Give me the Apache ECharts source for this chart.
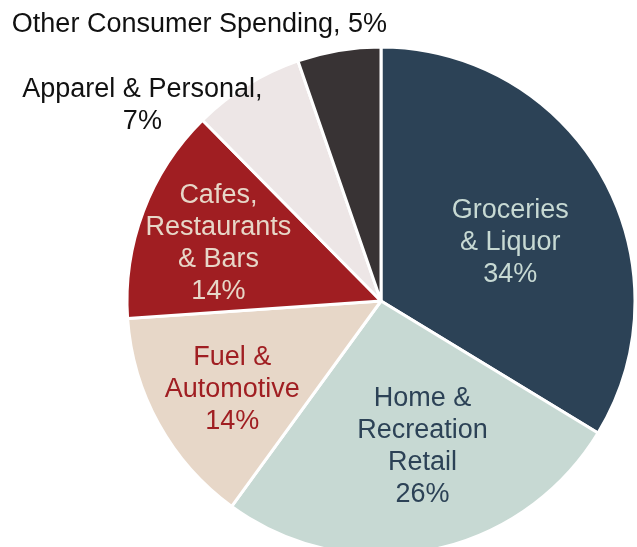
<!DOCTYPE html>
<html>
<head>
<meta charset="utf-8">
<script src="https://cdn.jsdelivr.net/npm/echarts@6/dist/echarts.min.js"></script>
<style>
  html, body { margin: 0; padding: 0; background: #FFFFFF; }
  #chart { width: 637px; height: 547px; }
</style>
</head>
<body>
<div id="chart"></div>
<script>
// slice data, clockwise from 12 o'clock
var categories = ['Groceries\n& Liquor', 'Home &\nRecreation\nRetail', 'Fuel &\nAutomotive', 'Cafes,\nRestaurants\n& Bars', 'Apparel & Personal', 'Other Consumer Spending'];
var shares = [33.7, 26.3, 13.9, 13.7, 7.1, 5.3];
var separators = ['\n', '\n', '\n', '\n', ',\n', ', '];

var fillColors = ['#2c4256', '#c7d9d3', '#e7d7c8', '#a01e22', '#ede6e6', '#383334'];
var textColors = ['#c7d9d3', '#2c4256', '#a01e22', '#e7d7c8', '#111111', '#111111'];
// label nudges from the default inside spot
var labelShift = [[16, 5], [16, 18], [-35, 26], [-41, -12], [-170, -85], [-160, -148]];

var chart = echarts.init(document.getElementById('chart'));

var pieData = categories.map(function (name, i) {
  return {
    name: name,
    value: shares[i],
    itemStyle: { color: fillColors[i] },
    label: { color: textColors[i] }
  };
});

chart.setOption({
  animation: false,
  series: [
    {
      type: 'pie',
      center: [381, 301],
      radius: [0, 254],
      startAngle: 90,
      clockwise: true,
      percentPrecision: 0,
      itemStyle: {
        borderColor: '#ffffff',
        borderWidth: 3
      },
      label: {
        show: true,
        position: 'inside',
        fontFamily: "'Liberation Sans', Arial, sans-serif",
        fontSize: 27,
        lineHeight: 32,
        align: 'center',
        formatter: function (p) {
          return p.name + separators[p.dataIndex] + p.percent + '%';
        }
      },
      labelLine: { show: false },
      labelLayout: function (params) {
        var s = labelShift[params.dataIndex];
        return { dx: s[0], dy: s[1] };
      },
      emphasis: { disabled: true },
      data: pieData
    }
  ]
});
</script>
</body>
</html>
